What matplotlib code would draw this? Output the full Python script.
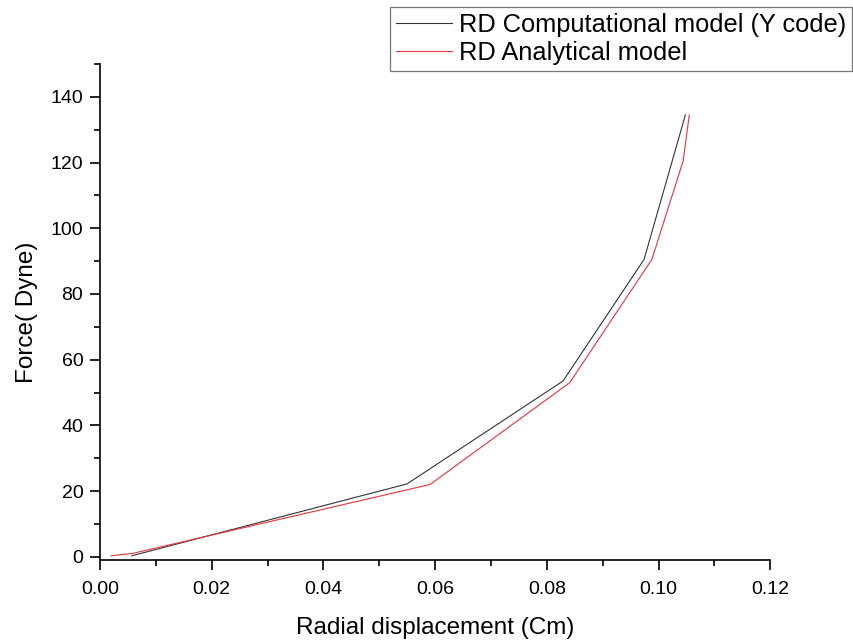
import numpy as np
import matplotlib.pyplot as plt
from matplotlib.ticker import MultipleLocator

plt.rcParams['font.family'] = ['Liberation Sans', 'DejaVu Sans']

# computational model (Y code)
comp_x = [0.0057, 0.0550, 0.0829, 0.0974, 0.1048]
comp_y = [0.3, 22.2, 53.5, 90.5, 134.5]

# analytical model
anal_x = [0.0020, 0.0058, 0.0591, 0.0841, 0.0988, 0.1044, 0.1055]
anal_y = [0.3, 1.0, 22.0, 53.0, 90.5, 120.5, 134.5]

fig = plt.figure(figsize=(8.54, 6.43), dpi=100)
ax = fig.add_axes([0.117, 0.129, 0.785, 0.7715])

ax.plot(comp_x, comp_y, color='#333333', lw=0.8, label='RD Computational model (Y code)')
ax.plot(anal_x, anal_y, color='#e8323c', lw=0.8, label='RD Analytical model')

ax.set_xlim(0, 0.12)
ax.set_ylim(-1, 150)
ax.xaxis.set_major_locator(MultipleLocator(0.02))
ax.xaxis.set_minor_locator(MultipleLocator(0.01))
ax.yaxis.set_major_locator(MultipleLocator(20))
ax.yaxis.set_minor_locator(MultipleLocator(10))
ax.xaxis.set_major_formatter(plt.FuncFormatter(lambda v, p: f'{v:.2f}'))

ax.spines['top'].set_visible(False)
ax.spines['right'].set_visible(False)
ax.spines['left'].set_linewidth(1.2)
ax.spines['bottom'].set_linewidth(1.2)
ax.tick_params(which='major', direction='out', length=7, width=1.2, labelsize=14)
ax.tick_params(which='minor', direction='out', length=4, width=1.2)
ax.tick_params(axis='x', which='major', pad=8)
ax.tick_params(axis='y', which='major', pad=5)

ax.set_xlabel('Radial displacement (Cm)', fontsize=17.5, labelpad=14)
ax.set_ylabel('Force( Dyne)', fontsize=17.5, labelpad=9)

leg = fig.legend(loc='upper right', bbox_to_anchor=(0.998, 0.989), fontsize=18.3,
                 frameon=True, fancybox=False, handlelength=2.2,
                 borderaxespad=0, borderpad=0.22, labelspacing=0.17,
                 handletextpad=0.3)
leg.get_frame().set_edgecolor('#555555')
leg.get_frame().set_linewidth(0.9)

fig.savefig('out.png', dpi=100)
